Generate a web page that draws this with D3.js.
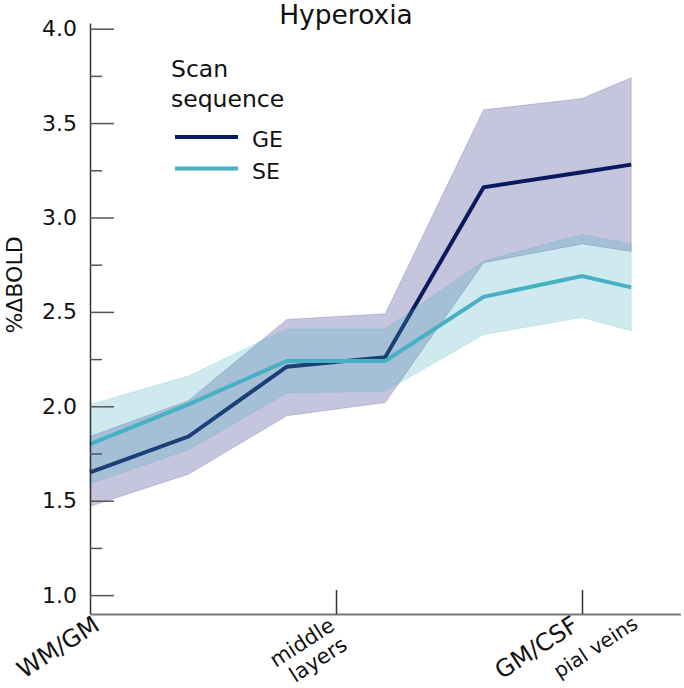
<!DOCTYPE html>
<html>
<head>
<meta charset="utf-8">
<script src="https://cdn.jsdelivr.net/npm/d3@7"></script>
<style>
  body { margin: 0; background: #fff; }
  text { font-family: "DejaVu Sans", sans-serif; fill: #111; }
</style>
</head>
<body>
<div id="chart"></div>
<script>
// layer positions along the cortical depth axis
var positions = [0, 1, 2, 3, 4, 5, 5.5];

// GE (gradient echo) mean and band limits
var geMean = [1.65, 1.84, 2.21, 2.26, 3.16, 3.24, 3.28];
var geUpper = [1.84, 2.03, 2.46, 2.49, 3.57, 3.63, 3.74];
var geLower = [1.47, 1.64, 1.95, 2.02, 2.76, 2.86, 2.82];

// SE (spin echo) mean and band limits
var seMean = [1.80, 2.01, 2.24, 2.24, 2.58, 2.69, 2.63];
var seUpper = [2.01, 2.16, 2.41, 2.41, 2.77, 2.91, 2.86];
var seLower = [1.59, 1.77, 2.07, 2.08, 2.38, 2.47, 2.40];

// tick values and labels
var yMajorTicks = [1.0, 1.5, 2.0, 2.5, 3.0, 3.5, 4.0];
var yMinorTicks = [1.25, 1.75, 2.25, 2.75, 3.25, 3.75];
var xTickMarks = [2.5, 5];
var xLabelPos = [0, 2.5, 5];
var xLabelText = [["WM/GM"], ["middle", "layers"], ["GM/CSF"]];
var xExtraPos = [5.5];
var xExtraText = ["pial veins"];

var seriesNames = ["GE", "SE"];

const svgWidth = 684;
const svgHeight = 688;

var geColor = "#0b1a5e";
var seColor = "#47b0c2";

var svg = d3.select("#chart")
  .append("svg")
  .attr("width", svgWidth)
  .attr("height", svgHeight);

svg.append("rect")
  .attr("width", svgWidth)
  .attr("height", svgHeight)
  .attr("fill", "#fff");

// scales
var xScale = d3.scaleLinear()
  .domain([0, 6])
  .range([90, 680.4]);

var yScale = d3.scaleLinear()
  .domain([0.9, 4.03])
  .range([614, 23]);

function rows(mean, lo, hi) {
  return positions.map((p, i) => ({ x: p, m: mean[i], lo: lo[i], hi: hi[i] }));
}
var geData = rows(geMean, geLower, geUpper);
var seData = rows(seMean, seLower, seUpper);

var area = d3.area()
  .x(d => xScale(d.x))
  .y0(d => yScale(d.lo))
  .y1(d => yScale(d.hi));

var line = d3.line()
  .x(d => xScale(d.x))
  .y(d => yScale(d.m));

// GE band + line, then SE band on top (it tints the GE line), then SE line
svg.append("path")
  .attr("d", area(geData))
  .attr("fill", "rgb(40,40,130)")
  .attr("fill-opacity", 0.27)
  .attr("stroke", "rgb(40,40,130)")
  .attr("stroke-opacity", 0.2)
  .attr("stroke-width", 1);

svg.append("path")
  .attr("d", line(geData))
  .attr("fill", "none")
  .attr("stroke", geColor)
  .attr("stroke-width", 4);

svg.append("path")
  .attr("d", area(seData))
  .attr("fill", "rgb(70,175,192)")
  .attr("fill-opacity", 0.26)
  .attr("stroke", "rgb(70,175,192)")
  .attr("stroke-opacity", 0.2)
  .attr("stroke-width", 1);

svg.append("path")
  .attr("d", line(seData))
  .attr("fill", "none")
  .attr("stroke", seColor)
  .attr("stroke-width", 4);

// y axis: major ticks with labels, minor ticks without
var yAxis = svg.append("g")
  .attr("transform", "translate(90,0)")
  .call(d3.axisLeft(yScale)
    .tickValues(yMajorTicks)
    .tickFormat(d3.format(".1f"))
    .tickSize(-24)
    .tickSizeOuter(0)
    .tickPadding(13));

yAxis.select(".domain").attr("stroke", "#333").attr("stroke-width", 1.5);
yAxis.selectAll(".tick line").attr("stroke", "#555").attr("stroke-width", 1.5);
yAxis.selectAll(".tick text")
  .attr("font-size", 22)
  .attr("font-family", "DejaVu Sans")
  .attr("fill", "#111");

var yMinor = svg.append("g")
  .attr("transform", "translate(90,0)")
  .call(d3.axisLeft(yScale)
    .tickValues(yMinorTicks)
    .tickFormat("")
    .tickSize(-12)
    .tickSizeOuter(0));
yMinor.select(".domain").remove();
yMinor.selectAll(".tick line").attr("stroke", "#555").attr("stroke-width", 1.5);

// x axis: line plus two inward ticks
var xAxis = svg.append("g")
  .attr("transform", "translate(0,614)")
  .call(d3.axisBottom(xScale)
    .tickValues(xTickMarks)
    .tickFormat("")
    .tickSize(-24)
    .tickSizeOuter(0));
xAxis.select(".domain").attr("stroke", "#777").attr("stroke-width", 2);
xAxis.selectAll(".tick line").attr("stroke", "#333").attr("stroke-width", 1.5);

// rotated x labels
var labelShift = [11, 0, -2];
xLabelPos.forEach(function(p, i) {
  var g = svg.append("text")
    .attr("transform", `translate(${xScale(p) + labelShift[i]},629) rotate(-33)`)
    .attr("text-anchor", "end")
    .attr("font-size", i === 1 ? 21 : 24);
  xLabelText[i].forEach(function(t, j) {
    g.append("tspan")
      .attr("x", 0)
      .attr("dy", j === 0 ? 0 : "1.1em")
      .text(t);
  });
});

xExtraPos.forEach(function(p, i) {
  svg.append("text")
    .attr("transform", `translate(${xScale(p) + 8},627) rotate(-33)`)
    .attr("text-anchor", "end")
    .attr("font-size", 20)
    .text(xExtraText[i]);
});

// y label
svg.append("text")
  .attr("transform", "translate(22,285) rotate(-90)")
  .attr("text-anchor", "middle")
  .attr("font-size", 22)
  .text("%ΔBOLD");

// title
svg.append("text")
  .attr("x", 346)
  .attr("y", 24)
  .attr("text-anchor", "middle")
  .attr("font-size", 26.5)
  .text("Hyperoxia");

// legend
var legend = svg.append("g");
legend.append("text").attr("x", 171).attr("y", 77).attr("font-size", 23.5).text("Scan");
legend.append("text").attr("x", 171).attr("y", 107).attr("font-size", 23.5).text("sequence");

[geColor, seColor].forEach(function(c, i) {
  var y = 137 + i * 31.5;
  legend.append("line")
    .attr("x1", 175).attr("x2", 238)
    .attr("y1", y).attr("y2", y)
    .attr("stroke", c)
    .attr("stroke-width", 4);
  legend.append("text")
    .attr("x", 252)
    .attr("y", y + 10)
    .attr("font-size", 22)
    .text(seriesNames[i]);
});
</script>
</body>
</html>
